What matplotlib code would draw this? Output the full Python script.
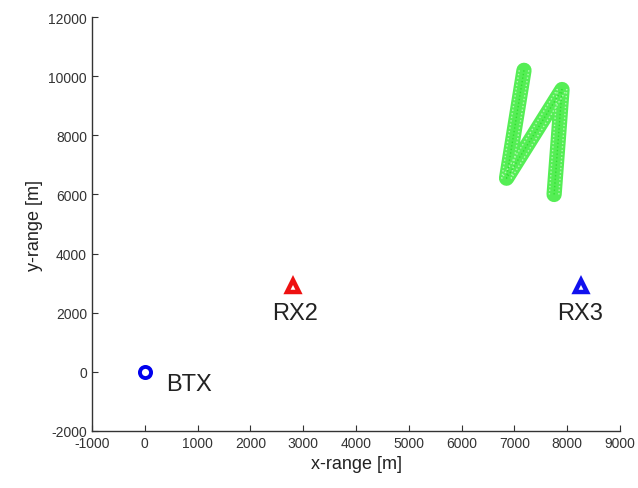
import matplotlib
matplotlib.use("Agg")
import matplotlib.pyplot as plt

plt.rcParams['font.family'] = ['Liberation Sans', 'DejaVu Sans']
plt.rcParams['axes.unicode_minus'] = False

# Station positions [m]
btx = (0, 0)
rx2 = (2800, 2900)
rx3 = (8250, 2900)

# Target track waypoints [m]
track_x = [7180, 6850, 7900, 7750]
track_y = [10200, 6550, 9550, 6000]

fig = plt.figure(figsize=(6.38, 4.89), dpi=100)
ax = fig.add_axes([0.144, 0.1166, 0.828, 0.8464])

# Track: light green band with dotted texture on top
ax.plot(track_x, track_y, color='#55ee55', lw=11, solid_capstyle='round',
        solid_joinstyle='round', zorder=2)
for dx, col in ((-90, '#b5f9b5'), (0, '#2fe02f'), (90, '#b5f9b5')):
    ax.plot([x + dx for x in track_x], track_y, color=col, lw=1.0,
            ls=(0, (1, 1.6)), zorder=3)

ax.plot(*btx, marker='o', ms=8, mfc='white', mec='#0000ee', mew=2.8,
        ls='none', zorder=4)
ax.plot(*rx2, marker='^', ms=9, mfc='white', mec='#ee1111', mew=3.2,
        ls='none', zorder=4)
ax.plot(*rx3, marker='^', ms=9, mfc='white', mec='#1111ee', mew=3.2,
        ls='none', zorder=4)

ax.text(btx[0] + 400, btx[1] - 420, 'BTX', fontsize=17, color='#222222',
        ha='left', va='center')
ax.text(rx2[0] + 50, rx2[1] - 900, 'RX2', fontsize=17, color='#222222',
        ha='center', va='center')
ax.text(rx3[0], rx3[1] - 900, 'RX3', fontsize=17, color='#222222',
        ha='center', va='center')

ax.set_xlim(-1000, 9000)
ax.set_ylim(-2000, 12000)
ax.set_xticks(range(-1000, 9001, 1000))
ax.set_yticks(range(-2000, 12001, 2000))
ax.tick_params(direction='in', length=4, width=0.8, labelsize=10,
               labelcolor='#333333', color='#333333')
for side in ('top', 'right'):
    ax.spines[side].set_visible(False)
for side in ('left', 'bottom'):
    ax.spines[side].set_color('#333333')
    ax.spines[side].set_linewidth(1.0)

ax.set_xlabel('x-range [m]', fontsize=13, color='#222222')
ax.set_ylabel('y-range [m]', fontsize=13, color='#222222')

fig.savefig('out.png', dpi=100)
